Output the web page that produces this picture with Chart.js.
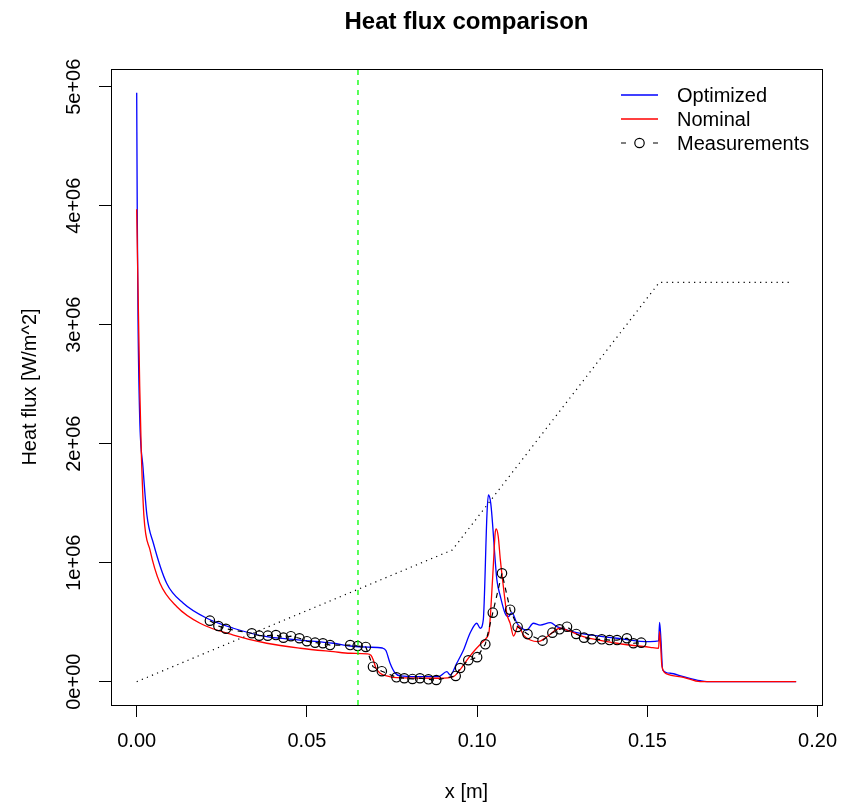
<!DOCTYPE html>
<html>
<head>
<meta charset="utf-8">
<script src="https://cdn.jsdelivr.net/npm/chart.js@4.4.1/dist/chart.umd.min.js"></script>
<style>
  body { margin: 0; background: #fff; }
  #wrap { width: 841px; height: 806px; }
</style>
</head>
<body>
<div id="wrap"><canvas id="chart" width="841" height="806"></canvas></div>
<script>
const TITLE = 'Heat flux comparison';
const X_TICKS = [0, 0.05, 0.10, 0.15, 0.20];
const X_TICK_LABELS = ['0.00', '0.05', '0.10', '0.15', '0.20'];
const Y_TICKS = [0, 1e6, 2e6, 3e6, 4e6, 5e6];
const Y_TICK_LABELS = ['0e+00', '1e+06', '2e+06', '3e+06', '4e+06', '5e+06'];

// heat flux values below are in 1e6 W/m^2
const OPT_X = [0, 0.00015, 0.00038, 0.00088, 0.00185, 0.0030, 0.0049, 0.0088, 0.0137, 0.0206,
  0.0284, 0.0382, 0.048, 0.0578, 0.0627, 0.0680, 0.0722, 0.0732, 0.0744, 0.0759,
  0.0774, 0.0823, 0.0886, 0.0911, 0.0921, 0.094, 0.096, 0.0979, 0.0999, 0.1009,
  0.1018, 0.1029, 0.1033, 0.1040, 0.1058, 0.1068, 0.1082, 0.1092, 0.1102, 0.1117,
  0.1131, 0.1146, 0.1165, 0.1185, 0.1215, 0.1234, 0.1264, 0.1312, 0.1411, 0.1508,
  0.1533, 0.1536, 0.1540, 0.1545, 0.1567, 0.1606, 0.1655, 0.1675, 0.1937];
const OPT_Y = [4.95, 4.0, 3.06, 2.22, 1.80, 1.40, 1.163, 0.827, 0.659, 0.533,
  0.449, 0.378, 0.350, 0.323, 0.300, 0.290, 0.283, 0.262, 0.157, 0.073,
  0.048, 0.042, 0.042, 0.084, 0.056, 0.155, 0.266, 0.407, 0.491, 0.449,
  0.518, 1.415, 1.569, 1.499, 0.855, 0.720, 0.575, 0.546, 0.580, 0.491,
  0.449, 0.434, 0.491, 0.476, 0.496, 0.462, 0.434, 0.401, 0.365, 0.336,
  0.342, 0.499, 0.350, 0.100, 0.071, 0.042, 0.008, 0.0, 0.0];

const NOM_X = [0, 0.00088, 0.00135, 0.0021, 0.0039, 0.0068, 0.0118, 0.0186, 0.0284, 0.0382,
  0.048, 0.0578, 0.0627, 0.0676, 0.0688, 0.0695, 0.0702, 0.0715, 0.0740, 0.0764,
  0.0891, 0.093, 0.0955, 0.0975, 0.0995, 0.1015, 0.1028, 0.1035, 0.1040, 0.1048,
  0.1053, 0.1056, 0.1062, 0.1068, 0.1077, 0.1087, 0.1097, 0.1107, 0.1121, 0.1136,
  0.1156, 0.1179, 0.1206, 0.1244, 0.1264, 0.1312, 0.1411, 0.1508, 0.1533, 0.1536,
  0.1543, 0.1557, 0.1606, 0.1655, 0.1937];
const NOM_Y = [3.97, 2.49, 1.93, 1.40, 1.107, 0.829, 0.630, 0.491, 0.392, 0.323,
  0.281, 0.252, 0.239, 0.234, 0.222, 0.182, 0.120, 0.071, 0.045, 0.034,
  0.029, 0.042, 0.120, 0.200, 0.270, 0.330, 0.370, 0.420, 0.600, 1.000,
  1.250, 1.285, 1.220, 1.030, 0.800, 0.575, 0.490, 0.384, 0.468, 0.392,
  0.350, 0.336, 0.380, 0.449, 0.434, 0.378, 0.323, 0.289, 0.281, 0.420,
  0.126, 0.065, 0.037, 0.0, 0.0];

const MEAS_X = [0.0215, 0.0240, 0.0262, 0.0338, 0.0360, 0.0385, 0.0409, 0.0431, 0.0453, 0.0478,
  0.0500, 0.0524, 0.0547, 0.0568, 0.0627, 0.0649, 0.0673, 0.0694, 0.0720, 0.0763,
  0.0786, 0.0810, 0.0832, 0.0857, 0.0880, 0.0937, 0.0950, 0.0974, 0.1000, 0.1024,
  0.1046, 0.1073, 0.1097, 0.1119, 0.1148, 0.1192, 0.1221, 0.1242, 0.1264, 0.1291,
  0.1314, 0.1337, 0.1366, 0.1389, 0.1411, 0.1440, 0.1459, 0.1482];
const MEAS_Y = [0.513, 0.468, 0.445, 0.407, 0.387, 0.387, 0.392, 0.370, 0.382, 0.365,
  0.340, 0.328, 0.323, 0.308, 0.308, 0.300, 0.292, 0.126, 0.088, 0.037,
  0.029, 0.023, 0.029, 0.020, 0.014, 0.048, 0.115, 0.180, 0.206, 0.314,
  0.580, 0.911, 0.605, 0.460, 0.400, 0.345, 0.412, 0.440, 0.462, 0.401,
  0.370, 0.356, 0.356, 0.350, 0.350, 0.365, 0.323, 0.328];

const GEOM_X = [0, 0.0927, 0.1535, 0.1923];
const GEOM_Y = [0, 1.107, 3.355, 3.355];

const VLINE_X = 0.065;

const X_MIN = -0.00755, X_MAX = 0.2013;
const Y_MIN = -0.196e6, Y_MAX = 5.149e6;

const pts = (xs, ys) => xs.map((x, i) => ({ x: x, y: ys[i] * 1e6 }));

const FONT = '"Liberation Sans", Arial, Helvetica, sans-serif';
Chart.defaults.font.family = FONT;
Chart.defaults.font.size = 20;
Chart.defaults.color = '#000';

const framePlugin = {
  id: 'frame',
  afterDraw(chart) {
    const { ctx, chartArea: a } = chart;
    ctx.save();
    ctx.strokeStyle = '#000';
    ctx.lineWidth = 1;
    ctx.setLineDash([]);
    ctx.strokeRect(a.left + 0.5, a.top + 0.5, a.right - a.left, a.bottom - a.top);

    ctx.fillStyle = '#000';
    ctx.font = 'bold 24px ' + FONT;
    ctx.textAlign = 'center';
    ctx.textBaseline = 'alphabetic';
    ctx.fillText(TITLE, (a.left + a.right) / 2, 29);

    // legend, top right inside the box
    const rows = [95, 119, 143];
    ctx.font = '20px ' + FONT;
    ctx.textAlign = 'left';
    ctx.textBaseline = 'middle';
    chart.data.datasets.filter(d => d.inLegend).forEach((d, i) => {
      const y = rows[i];
      ctx.strokeStyle = d.borderColor;
      ctx.lineWidth = d.borderWidth;
      ctx.beginPath();
      if (d.pointRadius > 0) {
        ctx.moveTo(621, y); ctx.lineTo(626, y);
        ctx.moveTo(653, y); ctx.lineTo(658, y);
        ctx.stroke();
        ctx.beginPath();
        ctx.arc(639.5, y, d.pointRadius, 0, Math.PI * 2);
      } else {
        ctx.moveTo(621, y); ctx.lineTo(658, y);
      }
      ctx.stroke();
      ctx.fillText(d.label, 677, y + 1);
    });
    ctx.restore();
  }
};

const axisGrid = { drawOnChartArea: false, drawTicks: true, tickLength: 12, color: '#000', lineWidth: 1 };

new Chart(document.getElementById('chart').getContext('2d'), {
  type: 'line',
  data: {
    datasets: [
      { label: 'Optimized', data: pts(OPT_X, OPT_Y), borderColor: '#0000ff', borderWidth: 1.3,
        cubicInterpolationMode: 'monotone', pointRadius: 0, order: 5, inLegend: true },
      { label: 'Nominal', data: pts(NOM_X, NOM_Y), borderColor: '#ff0000', borderWidth: 1.3,
        cubicInterpolationMode: 'monotone', pointRadius: 0, order: 4, inLegend: true },
      { label: 'Measurements', data: pts(MEAS_X, MEAS_Y), borderColor: '#000', borderWidth: 1.2,
        borderDash: [5, 5], pointRadius: 4.7, pointBorderColor: '#000', pointBorderWidth: 1.2,
        pointBackgroundColor: 'rgba(0,0,0,0)', order: 3, inLegend: true },
      { label: 'Geometry', data: pts(GEOM_X, GEOM_Y), borderColor: '#000', borderWidth: 1.2,
        borderDash: [1.2, 4.3], pointRadius: 0, order: 2 },
      { label: 'x_ref', data: [{ x: VLINE_X, y: Y_MIN }, { x: VLINE_X, y: Y_MAX }], borderColor: '#00ff00',
        borderWidth: 1.3, borderDash: [5, 5], pointRadius: 0, order: 1 }
    ]
  },
  options: {
    responsive: false,
    animation: false,
    devicePixelRatio: 1,
    events: [],
    layout: { padding: { top: 69, right: 19, bottom: 0, left: 0 } },
    plugins: { legend: { display: false }, title: { display: false }, tooltip: { enabled: false } },
    scales: {
      x: {
        type: 'linear', min: X_MIN, max: X_MAX,
        afterBuildTicks: s => { s.ticks = X_TICKS.map(v => ({ value: v })); },
        afterFit: s => { s.height = 101; s.paddingLeft = 0; s.paddingRight = 0; },
        ticks: { callback: (v, i) => X_TICK_LABELS[i], minRotation: 0, maxRotation: 0, autoSkip: false, padding: 12 },
        grid: axisGrid,
        border: { display: false },
        title: { display: true, text: 'x [m]', padding: { top: 0, bottom: 2 } }
      },
      y: {
        type: 'linear', min: Y_MIN, max: Y_MAX,
        afterBuildTicks: s => { s.ticks = Y_TICKS.map(v => ({ value: v })); },
        afterFit: s => { s.width = 111; s.paddingTop = 0; s.paddingBottom = 0; },
        ticks: { callback: (v, i) => Y_TICK_LABELS[i], minRotation: 90, maxRotation: 90, autoSkip: false,
          crossAlign: 'center', padding: -4 },
        grid: axisGrid,
        border: { display: false },
        title: { display: true, text: 'Heat flux [W/m^2]', padding: { top: 18, bottom: 0 } }
      }
    }
  },
  plugins: [framePlugin]
});
</script>
</body>
</html>
